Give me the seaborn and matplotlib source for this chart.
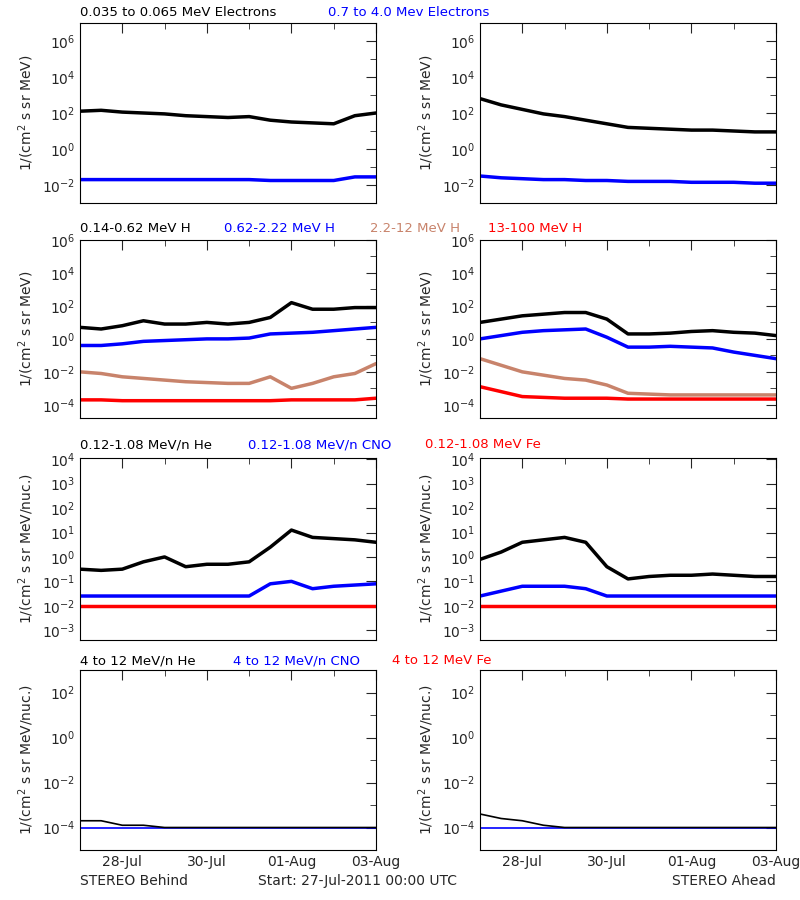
import numpy as np
import pandas as pd
import matplotlib
matplotlib.use("Agg")
import matplotlib.pyplot as plt
import seaborn as sns
from matplotlib.ticker import FixedLocator, NullFormatter

sns.set_style("white")
plt.rcParams['font.family'] = ['DejaVu Sans']

# time in days since 27-Jul-2011 00:00, every 12 hours
t = [0, 0.5, 1, 1.5, 2, 2.5, 3, 3.5, 4, 4.5, 5, 5.5, 6, 6.5, 7]

# log10 fluxes
# row 1: electrons
e_lo_B = [2.1, 2.15, 2.05, 2.0, 1.95, 1.85, 1.8, 1.75, 1.8, 1.6, 1.5, 1.45, 1.4, 1.85, 2.0]
e_hi_B = [-1.7, -1.7, -1.7, -1.7, -1.7, -1.7, -1.7, -1.7, -1.7, -1.75, -1.75, -1.75, -1.75, -1.55, -1.55]
e_lo_A = [2.8, 2.45, 2.2, 1.95, 1.8, 1.6, 1.4, 1.2, 1.15, 1.1, 1.05, 1.05, 1.0, 0.95, 0.95]
e_hi_A = [-1.5, -1.6, -1.65, -1.7, -1.7, -1.75, -1.75, -1.8, -1.8, -1.8, -1.85, -1.85, -1.85, -1.9, -1.9]
# row 2: protons
h1_B = [0.7, 0.6, 0.8, 1.1, 0.9, 0.9, 1.0, 0.9, 1.0, 1.3, 2.2, 1.8, 1.8, 1.9, 1.9]
h2_B = [-0.4, -0.4, -0.3, -0.15, -0.1, -0.05, 0.0, 0.0, 0.05, 0.3, 0.35, 0.4, 0.5, 0.6, 0.7]
h3_B = [-2.0, -2.1, -2.3, -2.4, -2.5, -2.6, -2.65, -2.7, -2.7, -2.3, -3.0, -2.7, -2.3, -2.1, -1.5]
h4_B = [-3.7, -3.7, -3.75, -3.75, -3.75, -3.75, -3.75, -3.75, -3.75, -3.75, -3.7, -3.7, -3.7, -3.7, -3.6]
h1_A = [1.0, 1.2, 1.4, 1.5, 1.6, 1.6, 1.2, 0.3, 0.3, 0.35, 0.45, 0.5, 0.4, 0.35, 0.2]
h2_A = [0.0, 0.2, 0.4, 0.5, 0.55, 0.6, 0.1, -0.5, -0.5, -0.45, -0.5, -0.55, -0.8, -1.0, -1.2]
h3_A = [-1.2, -1.6, -2.0, -2.2, -2.4, -2.5, -2.8, -3.3, -3.35, -3.4, -3.4, -3.4, -3.4, -3.4, -3.4]
h4_A = [-2.9, -3.2, -3.5, -3.55, -3.6, -3.6, -3.6, -3.65, -3.65, -3.65, -3.65, -3.65, -3.65, -3.65, -3.65]
# row 3: 0.12-1.08 MeV/n ions
he_lo_B = [-0.5, -0.55, -0.5, -0.2, 0.0, -0.4, -0.3, -0.3, -0.2, 0.4, 1.1, 0.8, 0.75, 0.7, 0.6]
cno_lo_B = [-1.6, -1.6, -1.6, -1.6, -1.6, -1.6, -1.6, -1.6, -1.6, -1.1, -1.0, -1.3, -1.2, -1.15, -1.1]
fe_lo_B = [-2.0] * 15
he_lo_A = [-0.1, 0.2, 0.6, 0.7, 0.8, 0.6, -0.4, -0.9, -0.8, -0.75, -0.75, -0.7, -0.75, -0.8, -0.8]
cno_lo_A = [-1.6, -1.4, -1.2, -1.2, -1.2, -1.3, -1.6, -1.6, -1.6, -1.6, -1.6, -1.6, -1.6, -1.6, -1.6]
fe_lo_A = [-2.0] * 15
# row 4: 4-12 MeV/n ions (background level)
he_hi_B = [-3.7, -3.7, -3.9, -3.9, -4.0, -4.0, -4.0, -4.0, -4.0, -4.0, -4.0, -4.0, -4.0, -4.0, -4.0]
he_hi_A = [-3.4, -3.6, -3.7, -3.9, -4.0, -4.0, -4.0, -4.0, -4.0, -4.0, -4.0, -4.0, -4.0, -4.0, -4.0]
bg_hi = [-4.0] * 15

dates = ["28-Jul", "30-Jul", "01-Aug", "03-Aug"]
date_pos = [1, 3, 5, 7]

BROWN = "#c8836b"
rows = [
    dict(left=[(e_lo_B, "black"), (e_hi_B, "blue")],
         right=[(e_lo_A, "black"), (e_hi_A, "blue")],
         ylim=(-3, 7), major=[-2, 0, 2, 4, 6], minor=range(-3, 8),
         ylabel="1/(cm$^2$ s sr MeV)",
         titles=[("0.035 to 0.065 MeV Electrons", "black", 80), ("0.7 to 4.0 Mev Electrons", "blue", 328)]),
    dict(left=[(h1_B, "black"), (h2_B, "blue"), (h3_B, BROWN), (h4_B, "red")],
         right=[(h1_A, "black"), (h2_A, "blue"), (h3_A, BROWN), (h4_A, "red")],
         ylim=(-4.8, 6), major=[-4, -2, 0, 2, 4, 6], minor=range(-4, 7),
         ylabel="1/(cm$^2$ s sr MeV)",
         titles=[("0.14-0.62 MeV H", "black", 80), ("0.62-2.22 MeV H", "blue", 224),
                 ("2.2-12 MeV H", BROWN, 370), ("13-100 MeV H", "red", 488)]),
    dict(left=[(he_lo_B, "black"), (cno_lo_B, "blue"), (fe_lo_B, "red")],
         right=[(he_lo_A, "black"), (cno_lo_A, "blue"), (fe_lo_A, "red")],
         ylim=(-3.4, 4.05), major=range(-3, 5), minor=range(-3, 5),
         ylabel="1/(cm$^2$ s sr MeV/nuc.)",
         titles=[("0.12-1.08 MeV/n He", "black", 80), ("0.12-1.08 MeV/n CNO", "blue", 248),
                 ("0.12-1.08 MeV Fe", "red", 425)]),
    dict(left=[(bg_hi, "blue"), (he_hi_B, "black")],
         right=[(bg_hi, "blue"), (he_hi_A, "black")],
         ylim=(-5, 3), major=[-4, -2, 0, 2], minor=range(-5, 4),
         ylabel="1/(cm$^2$ s sr MeV/nuc.)",
         titles=[("4 to 12 MeV/n He", "black", 80), ("4 to 12 MeV/n CNO", "blue", 233),
                 ("4 to 12 MeV Fe", "red", 392)]),
]

fig = plt.figure(figsize=(8, 9), dpi=100)
W, H = 800, 900
tops = [23, 240, 458, 670]
bots = [203, 418, 640, 850]
title_y = [13, 229, 445, 661]
lefts = [80, 480]
width = 296

for r, row in enumerate(rows):
    for c, side in enumerate(["left", "right"]):
        ax = fig.add_axes([lefts[c] / W, 1 - bots[r] / H, width / W, (bots[r] - tops[r]) / H])
        for vals, col in row[side]:
            df = pd.DataFrame({"t": t, "flux": np.power(10.0, vals)})
            lw = 1.2 if r == 3 else 2.5
            sns.lineplot(data=df, x="t", y="flux", color=col, lw=lw, ax=ax)
        ax.set_yscale("log")
        ax.set_ylim(10 ** row["ylim"][0], 10 ** row["ylim"][1])
        ax.set_xlim(0, 7)
        ax.yaxis.set_major_locator(FixedLocator([10.0 ** k for k in row["major"]]))
        ax.yaxis.set_minor_locator(FixedLocator([10.0 ** k for k in row["minor"]]))
        ax.yaxis.set_minor_formatter(NullFormatter())
        ax.set_yticklabels([f"$10^{{{k}}}$" for k in row["major"]])
        ax.set_xticks(date_pos)
        ax.set_xticks([0, 2, 4, 6], minor=True)
        if r == 3:
            ax.set_xticklabels(dates)
        else:
            ax.set_xticklabels([])
        ax.tick_params(which="both", direction="in", top=True, right=True,
                       labelsize=10, length=7)
        ax.tick_params(which="minor", length=4)
        ax.set_xlabel("")
        ax.set_ylabel(row["ylabel"], fontsize=10)
        for s in ax.spines.values():
            s.set_color("black")
            s.set_linewidth(0.8)
    for txt, col, x in row["titles"]:
        fig.text(x / W, 1 - title_y[r] / H, txt, color=col, fontsize=9.5, va="center")

fig.text(80 / W, 1 - 881 / H, "STEREO Behind", fontsize=10, va="center")
fig.text(358 / W, 1 - 881 / H, "Start: 27-Jul-2011 00:00 UTC", fontsize=10, ha="center", va="center")
fig.text(776 / W, 1 - 881 / H, "STEREO Ahead", fontsize=10, ha="right", va="center")

fig.savefig("out.png", dpi=100)
